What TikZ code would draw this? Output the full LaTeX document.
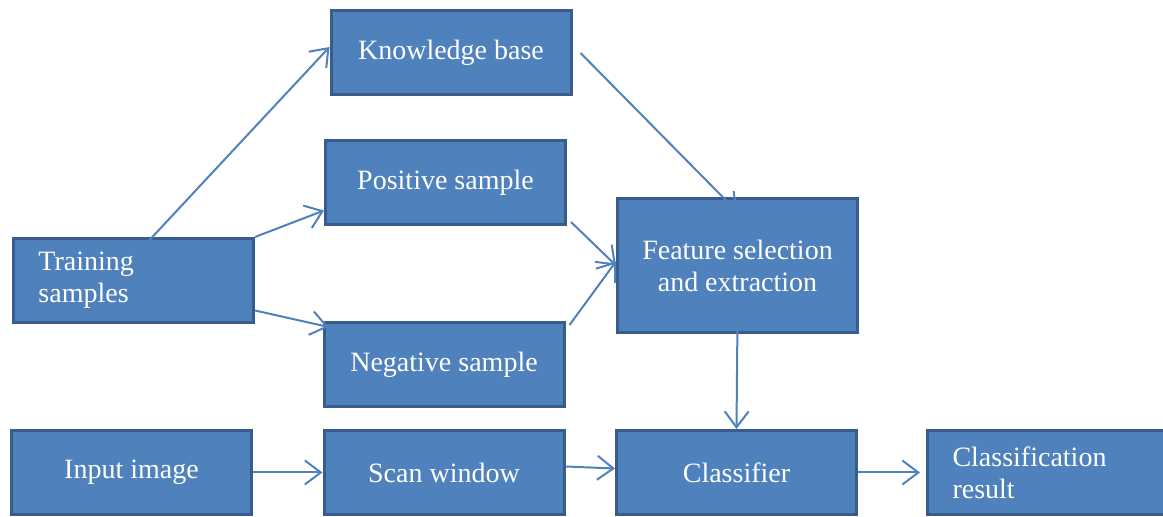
\documentclass[tikz,border=0pt]{standalone}
\usepackage{fontspec}
\setmainfont{Liberation Serif}
\usetikzlibrary{arrows.meta,calc}
\definecolor{boxfill}{RGB}{79,129,189}
\definecolor{boxline}{RGB}{56,93,138}

\begin{document}
\begin{tikzpicture}[x=0.5pt, y=-0.5pt, >={Straight Barb[length=8pt,width=12pt]},
    block/.style={draw=boxline, line width=1.5pt, fill=boxfill, text=white,
        minimum width=120pt, minimum height=42pt, inner sep=2pt,
        font=\fontsize{14}{16}\selectfont, align=center},
    lefttext/.style={text width=95pt, align=left},
    link/.style={->, draw=boxfill, line width=1pt}]
        \useasboundingbox (0,0) rectangle (1163,517);

        % training branch
        \node[block] (kb) at (451,53) {Knowledge base};
        \node[block] (pos) at (445.5,182.5) {Positive sample};
        \node[block, lefttext] (train) at (133.5,280.5) {Training\\samples};
        \node[block] (neg) at (444,364.5) {Negative sample};
        \node[block, minimum height=67pt] (feat) at (737.5,265.5) {Feature selection\\and extraction};

        % detection row
        \node[block] (input) at (131.5,472.5) {Input image};
        \node[block] (scan) at (444,472.5) {Scan window};
        \node[block] (cls) at (736.5,472.5) {Classifier};
        \node[block, lefttext] (res) at (1047.5,472.5) {Classification\\result};

        \draw[link] ($(train.north)+(3,17)$) -- ([yshift=3pt]kb.west);
        \draw[link] (train.north east) -- ([yshift=-14pt]pos.west);
        \draw[link] ([yshift=-15pt]train.east) -- ([xshift=3pt,yshift=-3pt]neg.north west);
        \draw[link] ([xshift=4pt]kb.east) -- ($(feat.north)+(0,15)$);
        \draw[link] ([xshift=2pt,yshift=2pt]pos.south east) -- (feat.west);
        \draw[link] ([xshift=2pt,yshift=-2pt]neg.north east) -- ([yshift=2pt]feat.west);
        \draw[link] ([yshift=8pt]feat.south) -- (cls.north);

        \draw[link] (input.east) -- (scan.west);
        \draw[link] ([yshift=3pt]scan.east) -- ([yshift=2pt]cls.west);
        \draw[link] (cls.east) -- ([xshift=-3pt]res.west);

    \end{tikzpicture}
\end{document}
